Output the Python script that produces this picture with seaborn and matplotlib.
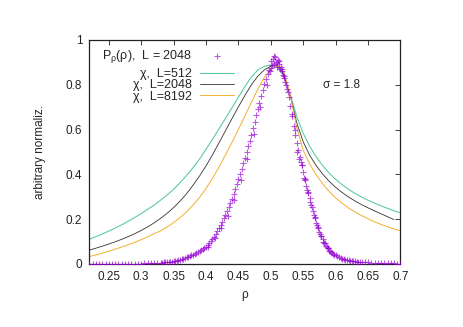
import matplotlib
matplotlib.use("Agg")
import matplotlib.pyplot as plt
import seaborn as sns
import pandas as pd

# ---- data ----
rho_pts = [
    0.220, 0.225, 0.230, 0.235, 0.240, 0.245, 0.250, 0.255, 0.260, 0.265, 0.270,
    0.275, 0.280, 0.285, 0.290, 0.295, 0.300, 0.305, 0.310, 0.315, 0.320, 0.325,
    0.3300, 0.3325, 0.3350, 0.3375, 0.3400, 0.3425, 0.3450, 0.3475, 0.3500, 0.3525,
    0.3550, 0.3575, 0.3600, 0.3625, 0.3650, 0.3675, 0.3700, 0.3725, 0.3750, 0.3775,
    0.3800, 0.3825, 0.3850, 0.3875, 0.3900, 0.3925, 0.3950, 0.3975, 0.4000, 0.4025,
    0.4050, 0.4075, 0.4100, 0.4125, 0.4150, 0.4175, 0.4200, 0.4225, 0.4250, 0.4275,
    0.4300, 0.4325, 0.4350, 0.4375, 0.4400, 0.4425, 0.4450, 0.4475, 0.4500, 0.4525,
    0.4550, 0.4575, 0.4600, 0.4625, 0.4650, 0.4675, 0.4700, 0.4725, 0.4750, 0.4775,
    0.4800, 0.4825, 0.4850, 0.4875, 0.4900, 0.4925, 0.4950, 0.4975, 0.5000, 0.5025,
    0.5050, 0.5075, 0.5100, 0.5125, 0.5150, 0.5175, 0.5200, 0.5225, 0.5250, 0.5275,
    0.5300, 0.5325, 0.5350, 0.5375, 0.5400, 0.5425, 0.5450, 0.5475, 0.5500, 0.5525,
    0.5550, 0.5575, 0.5600, 0.5625, 0.5650, 0.5675, 0.5700, 0.5725, 0.5750, 0.5775,
    0.5800, 0.5825, 0.5850, 0.5875, 0.5900, 0.5925, 0.5950, 0.5975, 0.6000, 0.6025,
    0.6050, 0.6075, 0.6100, 0.6125, 0.6150, 0.6175, 0.6200, 0.6225, 0.6250, 0.6275,
    0.6300, 0.6325, 0.6350, 0.6375, 0.6400,
    0.645, 0.650, 0.655, 0.660, 0.665, 0.670, 0.675, 0.680, 0.685, 0.690, 0.695, 0.700,
    0.4035, 0.4135, 0.4235, 0.4335, 0.4435, 0.4535, 0.4635, 0.4735, 0.4835, 0.4935,
    0.503, 0.507, 0.511, 0.509, 0.498, 0.513, 0.517, 0.521, 0.524, 0.527, 0.505,
    0.501, 0.514, 0.5185,
    0.533, 0.537, 0.541, 0.5435, 0.546, 0.548, 0.551, 0.553, 0.556, 0.558, 0.561,
    0.563, 0.566, 0.568, 0.571, 0.573, 0.576, 0.578, 0.581, 0.583, 0.586, 0.588,
    0.592, 0.596]
p_pts = [
    0.000, 0.000, 0.000, 0.000, 0.001, 0.000, 0.001, 0.000, 0.001, 0.001, 0.001,
    0.001, 0.001, 0.002, 0.002, 0.002, 0.002, 0.003, 0.003, 0.004, 0.004, 0.005,
    0.006, 0.006, 0.007, 0.008, 0.008, 0.009, 0.010, 0.011, 0.012, 0.014,
    0.015, 0.017, 0.019, 0.022, 0.024, 0.026, 0.029, 0.032, 0.035, 0.039,
    0.042, 0.046, 0.050, 0.054, 0.058, 0.063, 0.068, 0.073, 0.078, 0.085,
    0.092, 0.101, 0.110, 0.121, 0.133, 0.146, 0.160, 0.174, 0.188, 0.204,
    0.220, 0.237, 0.255, 0.273, 0.292, 0.313, 0.335, 0.356, 0.378, 0.401,
    0.425, 0.450, 0.475, 0.500, 0.525, 0.550, 0.578, 0.606, 0.635, 0.663,
    0.692, 0.720, 0.748, 0.777, 0.805, 0.828, 0.848, 0.864, 0.877, 0.888,
    0.895, 0.899, 0.900, 0.893, 0.880, 0.862, 0.840, 0.812, 0.780, 0.745,
    0.705, 0.660, 0.615, 0.577, 0.540, 0.508, 0.478, 0.444, 0.410, 0.380,
    0.350, 0.320, 0.293, 0.263, 0.235, 0.210, 0.185, 0.163, 0.143, 0.126,
    0.110, 0.095, 0.082, 0.071, 0.060, 0.053, 0.047, 0.042, 0.038, 0.034,
    0.030, 0.027, 0.024, 0.022, 0.020, 0.018, 0.017, 0.015, 0.014, 0.013,
    0.012, 0.011, 0.010, 0.0095, 0.009,
    0.008, 0.007, 0.006, 0.005, 0.005, 0.004, 0.004, 0.003, 0.003, 0.003, 0.002, 0.002,
    0.075, 0.115, 0.160, 0.215, 0.285, 0.375, 0.470, 0.580, 0.700, 0.800,
    0.915, 0.925, 0.910, 0.880, 0.860, 0.905, 0.870, 0.830, 0.800, 0.770, 0.930,
    0.905, 0.870, 0.845,
    0.670, 0.600, 0.500, 0.470, 0.455, 0.440, 0.385, 0.375, 0.330, 0.315, 0.275,
    0.255, 0.220, 0.205, 0.172, 0.160, 0.135, 0.125, 0.100, 0.095, 0.075, 0.070,
    0.058, 0.046]

rho_512 = [0.22, 0.23, 0.24, 0.25, 0.26, 0.27, 0.28, 0.29, 0.30, 0.31, 0.32, 0.33,
           0.34, 0.35, 0.36, 0.37, 0.38, 0.39, 0.40, 0.41, 0.42, 0.43, 0.44, 0.45,
           0.46, 0.47, 0.48, 0.49, 0.50, 0.51, 0.52, 0.53, 0.54, 0.55, 0.56, 0.57,
           0.58, 0.59, 0.60, 0.61, 0.62, 0.63, 0.64, 0.65, 0.66, 0.67, 0.68, 0.69, 0.70]
chi_512 = [0.110, 0.122, 0.134, 0.1467, 0.1605, 0.175, 0.191, 0.2075, 0.225, 0.244,
           0.263, 0.285, 0.308, 0.334, 0.363, 0.395, 0.430, 0.468, 0.512, 0.557,
           0.603, 0.650, 0.697, 0.745, 0.792, 0.835, 0.866, 0.883, 0.888, 0.878,
           0.838, 0.758, 0.658, 0.583, 0.525, 0.478, 0.439, 0.406, 0.378, 0.354,
           0.333, 0.315, 0.299, 0.2845, 0.2715, 0.2595, 0.2485, 0.238, 0.228]

rho_2048 = [0.22, 0.23, 0.24, 0.25, 0.26, 0.27, 0.28, 0.29, 0.30, 0.31, 0.32, 0.33,
            0.34, 0.35, 0.36, 0.37, 0.38, 0.39, 0.40, 0.41, 0.42, 0.43, 0.44, 0.45,
            0.46, 0.47, 0.48, 0.49, 0.50, 0.51, 0.52, 0.53, 0.54, 0.55, 0.56, 0.57,
            0.58, 0.59, 0.60, 0.61, 0.62, 0.63, 0.64, 0.65, 0.66, 0.67, 0.68, 0.69]
chi_2048 = [0.062, 0.0705, 0.0795, 0.089, 0.0992, 0.1102, 0.1222, 0.1352, 0.1497,
            0.1657, 0.1837, 0.2037, 0.2262, 0.2517, 0.2807, 0.3137, 0.3517, 0.3927,
            0.4377, 0.4877, 0.5407, 0.5947, 0.6487, 0.7017, 0.7527, 0.7997, 0.8387,
            0.8667, 0.8827, 0.8877, 0.847, 0.752, 0.630, 0.545, 0.485, 0.439, 0.401,
            0.369, 0.342, 0.319, 0.299, 0.281, 0.265, 0.2505, 0.237, 0.224, 0.211,
            0.198]

rho_8192 = [0.22, 0.23, 0.24, 0.25, 0.26, 0.27, 0.28, 0.29, 0.30, 0.31, 0.32, 0.33,
            0.34, 0.35, 0.36, 0.37, 0.38, 0.39, 0.40, 0.41, 0.42, 0.43, 0.44, 0.45,
            0.46, 0.47, 0.48, 0.49, 0.50, 0.51, 0.52, 0.53, 0.54, 0.55, 0.56, 0.57,
            0.58, 0.59, 0.60, 0.61, 0.62, 0.63, 0.64, 0.65, 0.66, 0.67, 0.68, 0.69, 0.70]
chi_8192 = [0.033, 0.0405, 0.0485, 0.0571, 0.0662, 0.0759, 0.0861, 0.0968, 0.1086,
            0.1215, 0.135, 0.148, 0.165, 0.185, 0.207, 0.233, 0.263, 0.297, 0.337,
            0.382, 0.432, 0.487, 0.543, 0.601, 0.661, 0.722, 0.781, 0.833, 0.870,
            0.888, 0.858, 0.753, 0.608, 0.508, 0.446, 0.398, 0.358, 0.324, 0.295,
            0.271, 0.250, 0.232, 0.216, 0.2015, 0.1885, 0.1765, 0.166, 0.1565, 0.148]

x_ticks = [0.25, 0.3, 0.35, 0.4, 0.45, 0.5, 0.55, 0.6, 0.65, 0.7]
x_ticklabels = ["0.25", "0.3", "0.35", "0.4", "0.45", "0.5", "0.55", "0.6", "0.65", "0.7"]
y_ticks = [0, 0.2, 0.4, 0.6, 0.8, 1]
y_ticklabels = ["0", "0.2", "0.4", "0.6", "0.8", "1"]

labels = [r"P$_{\mathregular{ρ}}$(ρ),  L = 2048", "χ,  L=512", "χ,  L=2048", "χ,  L=8192"]
annot = "σ = 1.8"

# ---- style ----
sns.set_style("white")
plt.rcParams["font.family"] = ["Liberation Sans", "DejaVu Sans"]
plt.rcParams["mathtext.fontset"] = "custom"
plt.rcParams["mathtext.rm"] = "Liberation Sans"
plt.rcParams["mathtext.it"] = "Liberation Sans"
fs = 8.5
lfs = 9

fig = plt.figure(figsize=(4.63, 3.27), dpi=100)
ax = fig.add_axes([0.1929, 0.1927, 0.6721, 0.685])

purple = "#9400d3"
green = "#52c9a0"
black = "#333333"
orange = "#f2b43a"

df_pts = pd.DataFrame({"rho": rho_pts, "p": p_pts})
sns.scatterplot(data=df_pts, x="rho", y="p", marker="+", s=18, color=purple,
                linewidth=0.8, alpha=0.65, ax=ax, label=labels[0], zorder=3)
sns.lineplot(x=rho_512, y=chi_512, color=green, lw=0.75, ax=ax, label=labels[1])
sns.lineplot(x=rho_2048, y=chi_2048, color=black, lw=0.6, ax=ax, label=labels[2])
sns.lineplot(x=rho_8192, y=chi_8192, color=orange, lw=0.75, ax=ax, label=labels[3])

ax.set_xlim(0.22, 0.70)
ax.set_ylim(0, 1)
ax.set_xticks(x_ticks)
ax.set_xticklabels(x_ticklabels, fontsize=fs)
ax.set_yticks(y_ticks)
ax.set_yticklabels(y_ticklabels, fontsize=fs)
ax.tick_params(direction="in", length=3.5, width=0.6, top=True, right=True,
               pad=5, colors="#222222")
for s in ax.spines.values():
    s.set_linewidth(0.9)
    s.set_color("#222222")

ax.set_xlabel("ρ", fontsize=fs)
ax.set_ylabel("arbitrary normaliz.", fontsize=fs)
ax.xaxis.set_label_coords(0.5, -0.112)
ax.yaxis.set_label_coords(-0.139, 0.5)

ax.text(0.581, 0.80, annot, fontsize=fs, ha="left", va="center")

handles, labs = ax.get_legend_handles_labels()
if ax.get_legend() is not None:
    ax.get_legend().remove()


def right_align(leg):
    try:
        for col in leg._legend_handle_box.get_children():
            col.align = "right"
    except Exception:
        pass


common = dict(frameon=False, markerfirst=False, fontsize=lfs, handlelength=2.75,
              handletextpad=0.6, borderpad=0.0, borderaxespad=0.0)
leg1 = ax.legend(handles[:1], labs[:1], loc="center right",
                 bbox_to_anchor=(0.465, 0.926), **common)
right_align(leg1)
ax.add_artist(leg1)
leg2 = ax.legend(handles[1:], labs[1:], loc="center right",
                 bbox_to_anchor=(0.465, 0.797), labelspacing=-0.05, **common)
right_align(leg2)

fig.savefig("out.png", dpi=100)
